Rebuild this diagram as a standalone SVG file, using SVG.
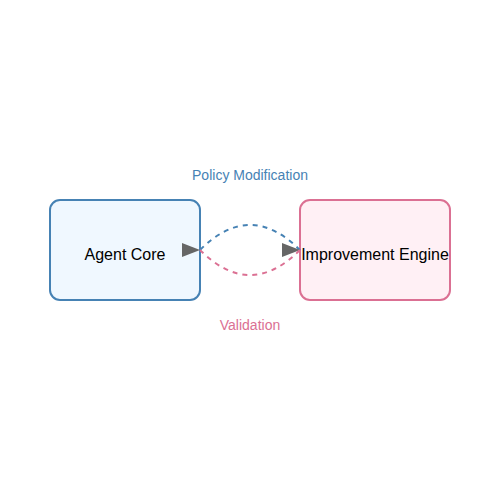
<svg xmlns="http://www.w3.org/2000/svg" width="500" height="500" viewBox="0 0 500 500">
<style>
.node{stroke-width:2}
.lbl{font-family:"Liberation Sans",Arial,sans-serif;font-size:16px;fill:#000;text-anchor:middle;dominant-baseline:central}
.elbl{font-family:"Liberation Sans",Arial,sans-serif;font-size:14px;text-anchor:middle;dominant-baseline:central}
.edge{fill:none;stroke-width:2;stroke-dasharray:5,5}
</style>
<defs>
<marker id="arrow" markerWidth="18" markerHeight="14" refX="18" refY="7" markerUnits="userSpaceOnUse">
<polygon points="0,0 18,7 0,14" fill="#666"/>
</marker>
</defs>
<rect width="500" height="500" fill="#fff"/>
<g id="agent-core">
<rect class="node" x="50" y="200" width="150" height="100" rx="10" fill="#f0f8ff" stroke="#4682b4"/>
<text class="lbl" x="125" y="254">Agent Core</text>
</g>
<g id="improvement-engine">
<rect class="node" x="300" y="200" width="150" height="100" rx="10" fill="#fff0f5" stroke="#db7093"/>
<text class="lbl" x="375" y="254">Improvement Engine</text>
</g>
<g id="edges">
<path class="edge" d="M200,250 Q250,200 300,250" stroke="#4682b4" marker-end="url(#arrow)"/>
<path class="edge" d="M300,250 Q250,300 200,250" stroke="#db7093" marker-end="url(#arrow)"/>
<text class="elbl" x="250" y="175" fill="#4682b4">Policy Modification</text>
<text class="elbl" x="250" y="325" fill="#db7093">Validation</text>
</g>
</svg>
